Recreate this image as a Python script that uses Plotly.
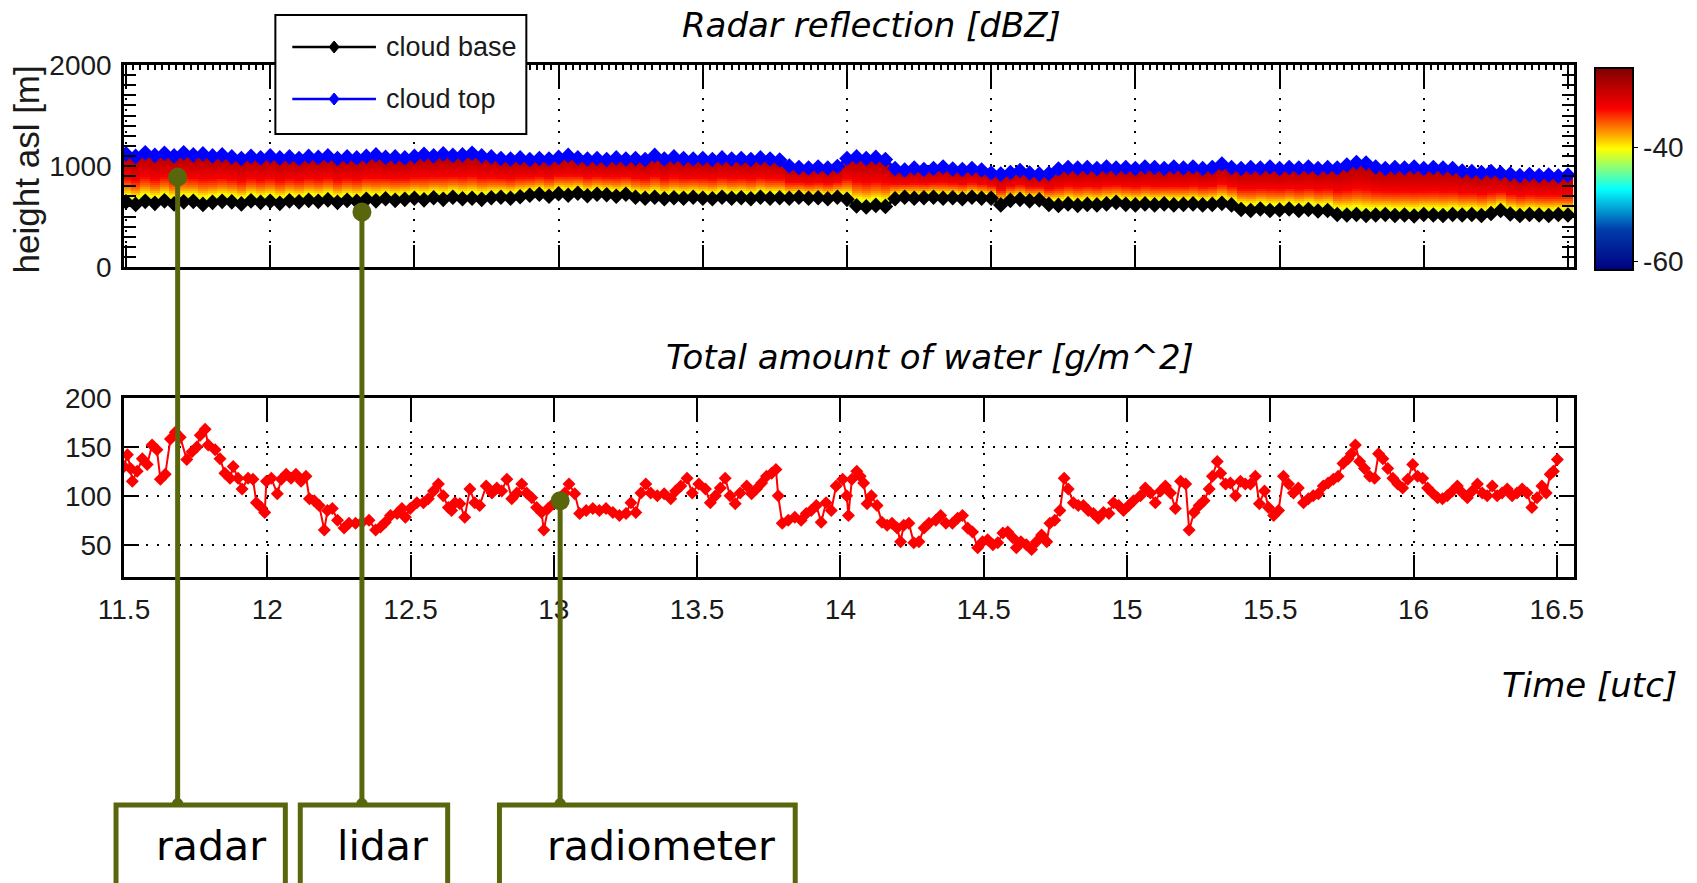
import numpy as np
import plotly.graph_objects as go

# ---------------- data ----------------
# cloud boundaries sampled every 2 minutes from 11.5 UTC
TOP_START_H = 11.5
TOP_STEP_H = 1.0 / 30.0
CLOUD_TOP_M = [
    1120, 1095, 1130, 1105, 1125, 1100, 1130, 1110, 1120, 1100,
    1110, 1090, 1075, 1095, 1080, 1100, 1080, 1090, 1075, 1095,
    1085, 1100, 1075, 1090, 1080, 1095, 1110, 1085, 1090, 1080,
    1095, 1115, 1100, 1120, 1105, 1110, 1125, 1100, 1090, 1075,
    1070, 1080, 1065, 1075, 1070, 1085, 1105, 1080, 1070, 1075,
    1065, 1080, 1070, 1075, 1065, 1105, 1070, 1090, 1075, 1070,
    1075, 1065, 1080, 1070, 1075, 1065, 1080, 1070, 1060, 1000,
    985, 980, 990, 980, 995, 1075, 1090, 1075, 1085, 1065,
    975, 960, 980, 965, 975, 990, 970, 965, 975, 960,
    930, 920, 935, 955, 930, 920, 925, 970, 985, 980,
    985, 975, 990, 980, 985, 975, 990, 985, 975, 990,
    980, 990, 975, 985, 1020, 985, 975, 985, 980, 990,
    975, 985, 980, 990, 975, 985, 980, 1010, 1035, 1030,
    990, 975, 985, 980, 990, 975, 985, 980, 975, 950,
    945, 935, 945, 930, 920, 905, 915, 905, 910, 900,
    910,
]
CLOUD_BASE_M = [
    645, 620, 650, 630, 655, 625, 645, 650, 620, 640,
    650, 645, 625, 655, 640, 650, 630, 655, 645, 660,
    650, 665, 640, 660, 650, 670, 655, 675, 660, 670,
    680, 665, 685, 670, 690, 675, 680, 670, 685, 690,
    680, 695, 710, 720, 700, 725, 710, 730, 705, 720,
    715, 700, 720, 690, 680, 690, 675, 685, 680, 690,
    680, 675, 690, 680, 685, 675, 690, 680, 685, 680,
    690, 680, 685, 675, 690, 670, 605, 595, 610, 600,
    675, 690, 680, 685, 690, 680, 685, 675, 690, 680,
    680, 615, 660, 670, 655, 665, 620, 610, 625, 610,
    620, 615, 625, 640, 620, 615, 625, 615, 625, 615,
    620, 625, 615, 620, 630, 615, 570, 560, 575, 560,
    565, 575, 560, 570, 555, 560, 520, 515, 520, 510,
    515, 520, 510, 515, 505, 520, 515, 510, 520, 515,
    520, 510, 530, 560, 525, 510, 520, 515, 510, 520,
    515,
]

# vertical reflectivity profile inside the cloud (0 = base, 1 = top)
PROFILE_REL = [0.0, 0.15, 0.30, 0.50, 0.75, 1.0]
PROFILE_DBZ = [-43.0, -40.0, -36.5, -33.0, -30.5, -28.5]
HEIGHT_GRID_M = np.arange(300, 1301, 20)
DBZ_RANGE = [-61.5, -26.0]

# radiometer liquid water path
WATER_TIME_H = [
    11.500, 11.512, 11.523, 11.529, 11.546, 11.564, 11.581, 11.598, 11.615, 11.627,
    11.644, 11.662, 11.679, 11.696, 11.719, 11.737, 11.754, 11.766, 11.783, 11.794,
    11.818, 11.835, 11.852, 11.870, 11.881, 11.898, 11.912, 11.933, 11.950, 11.962,
    11.979, 11.991, 11.997, 12.014, 12.035, 12.049, 12.066, 12.083, 12.100, 12.118,
    12.135, 12.147, 12.164, 12.181, 12.199, 12.210, 12.227, 12.245, 12.268, 12.285,
    12.308, 12.331, 12.355, 12.378, 12.395, 12.412, 12.430, 12.453, 12.470, 12.482,
    12.499, 12.522, 12.545, 12.562, 12.580, 12.597, 12.614, 12.632, 12.643, 12.655,
    12.672, 12.689, 12.707, 12.724, 12.741, 12.764, 12.784, 12.801, 12.818, 12.836,
    12.853, 12.871, 12.888, 12.905, 12.923, 12.940, 12.957, 12.965, 12.980, 12.998,
    13.021, 13.038, 13.053, 13.073, 13.090, 13.113, 13.136, 13.159, 13.182, 13.206,
    13.229, 13.252, 13.269, 13.286, 13.304, 13.321, 13.338, 13.361, 13.385, 13.408,
    13.425, 13.443, 13.465, 13.483, 13.506, 13.529, 13.546, 13.564, 13.581, 13.598,
    13.615, 13.633, 13.650, 13.673, 13.690, 13.707, 13.725, 13.742, 13.760, 13.775,
    13.783, 13.797, 13.818, 13.841, 13.863, 13.881, 13.898, 13.916, 13.933, 13.950,
    13.968, 13.985, 14.008, 14.022, 14.028, 14.040, 14.057, 14.069, 14.081, 14.093,
    14.108, 14.128, 14.145, 14.163, 14.180, 14.198, 14.210, 14.221, 14.239, 14.256,
    14.274, 14.292, 14.309, 14.333, 14.350, 14.368, 14.391, 14.409, 14.426, 14.444,
    14.461, 14.479, 14.496, 14.514, 14.532, 14.549, 14.567, 14.584, 14.602, 14.614,
    14.630, 14.649, 14.667, 14.684, 14.702, 14.720, 14.731, 14.748, 14.766, 14.781,
    14.795, 14.813, 14.830, 14.848, 14.865, 14.883, 14.900, 14.918, 14.937, 14.953,
    14.971, 14.988, 15.006, 15.023, 15.047, 15.064, 15.082, 15.099, 15.117, 15.134,
    15.152, 15.169, 15.187, 15.205, 15.217, 15.234, 15.252, 15.269, 15.287, 15.298,
    15.315, 15.327, 15.344, 15.361, 15.379, 15.396, 15.413, 15.431, 15.448, 15.462,
    15.480, 15.494, 15.512, 15.529, 15.546, 15.564, 15.581, 15.598, 15.616, 15.633,
    15.650, 15.668, 15.685, 15.702, 15.720, 15.737, 15.754, 15.772, 15.783, 15.797,
    15.812, 15.829, 15.847, 15.864, 15.878, 15.893, 15.910, 15.928, 15.945, 15.962,
    15.980, 15.997, 16.014, 16.032, 16.049, 16.066, 16.084, 16.101, 16.118, 16.136,
    16.153, 16.171, 16.188, 16.205, 16.223, 16.240, 16.257, 16.275, 16.292, 16.309,
    16.327, 16.344, 16.361, 16.379, 16.396, 16.413, 16.431, 16.448, 16.463, 16.477,
    16.488, 16.502,
]
WATER_G_M2 = [
    130, 142, 128, 115, 125, 138, 132, 152, 147, 117,
    122, 158, 165, 160, 137, 145, 150, 162, 168, 152,
    147, 138, 123, 118, 130, 118, 107, 118, 117, 93,
    88, 83, 115, 118, 102, 117, 122, 118, 122, 115,
    120, 97, 95, 90, 65, 85, 87, 75, 67, 72,
    72, 73, 75, 65, 68, 73, 80, 82, 87, 78,
    87, 93, 93, 97, 105, 112, 100, 88, 85, 93,
    92, 78, 107, 93, 90, 110, 103, 108, 105, 117,
    97, 103, 112, 103, 98, 88, 83, 65, 87, 92,
    95, 103, 112, 102, 82, 85, 87, 85, 87, 83,
    80, 82, 93, 83, 103, 112, 103, 100, 102, 97,
    105, 110, 118, 103, 112, 107, 93, 100, 108, 118,
    100, 92, 103, 110, 102, 107, 113, 120, 123, 127,
    100, 72, 75, 78, 75, 82, 85, 90, 73, 93,
    85, 110, 117, 100, 80, 117, 125, 120, 113, 92,
    100, 90, 73, 70, 72, 67, 53, 70, 72, 52,
    53, 67, 72, 75, 80, 72, 72, 77, 80, 67,
    63, 47, 53, 55, 50, 52, 62, 63, 57, 47,
    53, 50, 45, 53, 60, 53, 72, 75, 85, 118,
    107, 93, 90, 90, 85, 82, 77, 83, 82, 93,
    90, 85, 90, 95, 100, 108, 103, 93, 105, 110,
    103, 87, 115, 112, 65, 83, 90, 95, 107, 120,
    135, 123, 112, 113, 100, 115, 112, 112, 120, 92,
    105, 88, 80, 85, 120, 112, 103, 108, 93, 97,
    100, 102, 110, 113, 117, 120, 133, 138, 143, 152,
    135, 128, 120, 118, 143, 138, 128, 118, 112, 108,
    117, 132, 120, 118, 108, 103, 98, 97, 100, 105,
    110, 103, 98, 105, 112, 103, 100, 110, 100, 103,
    107, 100, 103, 107, 103, 88, 98, 110, 103, 122,
    125, 137,
]

X_TICKS = [11.5, 12.0, 12.5, 13.0, 13.5, 14.0, 14.5, 15.0, 15.5, 16.0, 16.5]
X_TICK_TEXT = ["11.5", "12", "12.5", "13", "13.5", "14", "14.5", "15", "15.5", "16", "16.5"]
Y_TOP_TICKS = [0, 1000, 2000]
Y_BOT_TICKS = [50, 100, 150, 200]
CBAR_TICKS = [-40, -60]
CBAR_TICK_TEXT = ["-40", "-60"]

TOP_X_RANGE = [11.493, 16.521]
BOT_X_RANGE = [11.5, 16.56]
TOP_Y_RANGE = [0, 2000]
BOT_Y_RANGE = [17, 200]

# instrument markers: name, time [h], value, panel
SOURCES = [
    ("radar", 11.679, 890, "top"),
    ("lidar", 12.318, 545, "top"),
    ("radiometer", 13.022, 95, "bottom"),
]

# ---------------- layout geometry (pixels) ----------------
W, H = 1697, 883
L, R, T, B = 124, 1580, 65, 577


def px_x(p):
    return (p - L) / (R - L)


def px_y(p):
    return (B - p) / (B - T)


TOP_DOMAIN = [px_y(267), 1.0]
BOT_DOMAIN = [0.0, px_y(398)]

SANS = "Liberation Sans, Arial, sans-serif"
TEXT = "DejaVu Sans, Verdana, sans-serif"
TICK_SIZE = 28
INK = "#1a1a1a"
GREEN = "#5a660c"
DOTGRID = "2px,9px"

# ---------------- reflectivity field ----------------
top_time = np.round(TOP_START_H + TOP_STEP_H * np.arange(len(CLOUD_TOP_M)), 4)
base = np.array(CLOUD_BASE_M, dtype=float)
top = np.array(CLOUD_TOP_M, dtype=float)
rel = (HEIGHT_GRID_M[:, None] - base[None, :]) / (top - base)[None, :]
dbz = np.interp(rel, PROFILE_REL, PROFILE_DBZ)
dbz[(rel < 0) | (rel > 1)] = np.nan

fig = go.Figure()

fig.add_trace(go.Heatmap(
    x=top_time, y=HEIGHT_GRID_M, z=dbz,
    colorscale="Jet", zmin=DBZ_RANGE[0], zmax=DBZ_RANGE[1],
    xaxis="x", yaxis="y", hoverinfo="skip",
    colorbar=dict(
        x=px_x(1601), xanchor="left", xpad=0,
        y=px_y(169), yanchor="middle", ypad=0,
        len=202, lenmode="pixels", thickness=38, thicknessmode="pixels",
        outlinewidth=2, outlinecolor="black",
        tickvals=CBAR_TICKS, ticktext=CBAR_TICK_TEXT,
        ticks="outside", ticklen=4, tickcolor="black",
        tickfont=dict(family=SANS, size=TICK_SIZE, color=INK),
    ),
))

fig.add_trace(go.Scatter(
    x=top_time, y=CLOUD_TOP_M, mode="lines+markers", name="cloud top",
    line=dict(color="#0000ff", width=3),
    marker=dict(symbol="diamond", size=12, color="#0000ff"),
    xaxis="x", yaxis="y", showlegend=False,
))
fig.add_trace(go.Scatter(
    x=top_time, y=CLOUD_BASE_M, mode="lines+markers", name="cloud base",
    line=dict(color="#000000", width=3),
    marker=dict(symbol="diamond", size=12, color="#000000"),
    xaxis="x", yaxis="y", showlegend=False,
))

fig.add_trace(go.Scatter(
    x=WATER_TIME_H, y=WATER_G_M2, mode="lines+markers", name="water",
    line=dict(color="#ff0000", width=2),
    marker=dict(symbol="diamond", size=10, color="#ff0000"),
    xaxis="x2", yaxis="y2", showlegend=False,
))

# axis carrying the minor ticks along the upper frame of the radar panel
fig.add_trace(go.Scatter(x=[], y=[], xaxis="x3", yaxis="y", showlegend=False, hoverinfo="skip"))

shapes = []
annotations = []
BOX_TOP = px_y(805)
BOX_BOTTOM = px_y(900)
BOX_SPANS = {"radar": (116, 286), "lidar": (301, 449), "radiometer": (501, 798)}
BOX_TEXT_X = {"radar": 211, "lidar": 384, "radiometer": 663}

for name, t, val, panel in SOURCES:
    xa, ya = ("x", "y") if panel == "top" else ("x2", "y2")
    y_floor = TOP_Y_RANGE[0] if panel == "top" else BOT_Y_RANGE[0]
    dom_floor = TOP_DOMAIN[0] if panel == "top" else BOT_DOMAIN[0]
    # leader inside the panel
    shapes.append(dict(type="line", xref=xa, yref=ya, x0=t, x1=t, y0=val, y1=y_floor,
                       line=dict(color=GREEN, width=5), layer="above"))
    # leader down to the label box
    shapes.append(dict(type="line", xref=xa, yref="paper", x0=t, x1=t, y0=dom_floor, y1=BOX_TOP,
                       line=dict(color=GREEN, width=5), layer="above"))
    shapes.append(dict(type="circle", xref=xa, yref="paper", xsizemode="pixel", ysizemode="pixel",
                       xanchor=t, yanchor=BOX_TOP, x0=-6, x1=6, y0=-7, y1=7,
                       fillcolor=GREEN, line=dict(width=0), layer="above"))
    fig.add_trace(go.Scatter(x=[t], y=[val], mode="markers", xaxis=xa, yaxis=ya,
                             marker=dict(size=19, color=GREEN), showlegend=False, hoverinfo="skip"))
    bx0, bx1 = BOX_SPANS[name]
    shapes.append(dict(type="rect", xref="paper", yref="paper", x0=px_x(bx0), x1=px_x(bx1),
                       y0=BOX_TOP, y1=BOX_BOTTOM, fillcolor="white",
                       line=dict(color=GREEN, width=5), layer="above"))
    annotations.append(dict(text=name, xref="paper", yref="paper",
                            x=px_x(BOX_TEXT_X[name]), y=px_y(846),
                            showarrow=False, xanchor="center", yanchor="middle",
                            font=dict(family=TEXT, size=41, color="black")))

# legend drawn by hand
shapes.append(dict(type="rect", xref="paper", yref="paper", x0=px_x(276), x1=px_x(528),
                   y0=px_y(15), y1=px_y(134), fillcolor="white",
                   line=dict(color="black", width=2), layer="above"))
for label, color, py in [("cloud base", "#000000", 47), ("cloud top", "#0000ff", 99)]:
    shapes.append(dict(type="line", xref="paper", yref="paper", x0=px_x(293), x1=px_x(377),
                       y0=px_y(py), y1=px_y(py), line=dict(color=color, width=2.5), layer="above"))
    shapes.append(dict(type="path", xref="paper", yref="paper", xsizemode="pixel", ysizemode="pixel",
                       xanchor=px_x(335), yanchor=px_y(py), path="M0,6 L5,0 L0,-6 L-5,0 Z",
                       fillcolor=color, line=dict(color=color, width=1), layer="above"))
    annotations.append(dict(text=label, xref="paper", yref="paper", x=px_x(385), y=px_y(py),
                            xanchor="left", yanchor="middle", showarrow=False,
                            font=dict(family=SANS, size=27, color=INK)))

annotations += [
    dict(text="<i>Radar reflection [dBZ]</i>", xref="paper", yref="paper",
         x=px_x(875), y=px_y(25), showarrow=False, xanchor="center", yanchor="middle",
         font=dict(family=TEXT, size=34, color="black")),
    dict(text="<i>Total amount of water [g/m^2]</i>", xref="paper", yref="paper",
         x=px_x(933), y=px_y(357), showarrow=False, xanchor="center", yanchor="middle",
         font=dict(family=TEXT, size=34, color="black")),
    dict(text="<i>Time [utc]</i>", xref="paper", yref="paper",
         x=px_x(1685), y=px_y(685), showarrow=False, xanchor="right", yanchor="middle",
         font=dict(family=TEXT, size=34, color="black")),
    dict(text="height asl [m]", xref="paper", yref="paper", textangle=-90,
         x=px_x(26), y=px_y(169), showarrow=False, xanchor="center", yanchor="middle",
         font=dict(family=SANS, size=35, color=INK)),
]

frame = dict(showline=True, linecolor="black", linewidth=2.5, zeroline=False)
tickfont = dict(family=SANS, size=TICK_SIZE, color=INK)

fig.update_layout(
    width=W, height=H,
    margin=dict(l=L, r=W - R, t=T, b=H - B),
    paper_bgcolor="white", plot_bgcolor="white",
    showlegend=False,
    xaxis=dict(domain=[0, 1], anchor="y", range=TOP_X_RANGE, tickvals=X_TICKS,
               showticklabels=False, ticks="inside", ticklen=22, tickwidth=2, tickcolor="black",
               mirror="ticks", showgrid=True, gridcolor="black", gridwidth=1.5, griddash=DOTGRID,
               **frame),
    xaxis3=dict(overlaying="x", anchor="y", side="top", range=TOP_X_RANGE,
                showticklabels=False, ticks="", showgrid=False, zeroline=False, showline=False,
                minor=dict(ticks="inside", dtick=0.025, tick0=11.5, ticklen=5,
                           tickcolor="black", tickwidth=1.5, showgrid=False)),
    yaxis=dict(domain=TOP_DOMAIN, anchor="x", range=TOP_Y_RANGE, tickvals=Y_TOP_TICKS,
               ticks="inside", ticklen=12, tickwidth=2, tickcolor="black", mirror="allticks",
               minor=dict(ticks="inside", dtick=100, ticklen=5, tickcolor="black", tickwidth=1.5,
                          showgrid=False),
               showgrid=True, gridcolor="black", gridwidth=1.5, griddash=DOTGRID,
               tickfont=tickfont, ticklabelstandoff=4, **frame),
    xaxis2=dict(domain=[0, 1], anchor="y2", range=BOT_X_RANGE, tickvals=X_TICKS,
                ticktext=X_TICK_TEXT, ticks="inside", ticklen=22, tickwidth=2, tickcolor="black",
                mirror="ticks", showgrid=True, gridcolor="black", gridwidth=1.5, griddash=DOTGRID,
                tickfont=tickfont, ticklabelstandoff=6, **frame),
    yaxis2=dict(domain=BOT_DOMAIN, anchor="x2", range=BOT_Y_RANGE, tickvals=Y_BOT_TICKS,
                ticks="inside", ticklen=15, tickwidth=2, tickcolor="black", mirror="ticks",
                showgrid=True, gridcolor="black", gridwidth=1.5, griddash=DOTGRID,
                tickfont=tickfont, ticklabelstandoff=4, **frame),
    shapes=shapes,
    annotations=annotations,
)

fig.write_html("out.html")
